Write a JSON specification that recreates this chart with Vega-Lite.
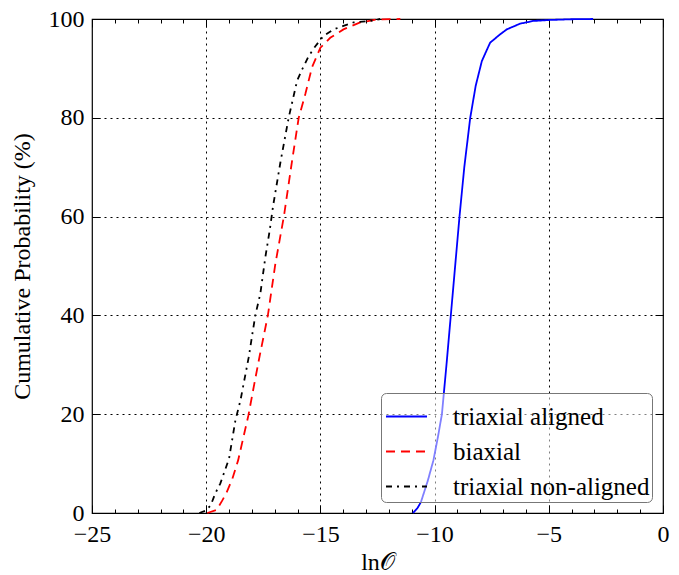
{
  "$schema": "https://vega.github.io/schema/vega-lite/v6.json",
  "autosize": "none",
  "width": 571,
  "height": 494,
  "padding": {"left": 92, "top": 19, "right": 16, "bottom": 62},
  "background": "white",
  "config": {
    "view": {"stroke": "black", "strokeWidth": 1.2},
    "font": "Liberation Serif",
    "axis": {"gridDash": [2, 4]},
    "legend": {
      "orient": "bottom-right",
      "offset": 11,
      "symbolType": "stroke",
      "symbolSize": 1681,
      "symbolStrokeWidth": 2,
      "symbolOffset": 2,
      "labelFont": "Liberation Serif",
      "labelFontSize": 25,
      "labelColor": "black",
      "labelOffset": 25,
      "labelLimit": 400,
      "rowPadding": -3,
      "padding": 2,
      "fillColor": "rgba(255,255,255,0.5)",
      "strokeColor": "#777777",
      "cornerRadius": 5
    }
  },
  "data": {
    "values": [
      {"s": "triaxial aligned", "x": -10.95, "p": 0},
      {"s": "triaxial aligned", "x": -10.75, "p": 1},
      {"s": "triaxial aligned", "x": -10.6, "p": 2.2},
      {"s": "triaxial aligned", "x": -10.3, "p": 6.5},
      {"s": "triaxial aligned", "x": -10.05, "p": 10.7},
      {"s": "triaxial aligned", "x": -9.85, "p": 15.5},
      {"s": "triaxial aligned", "x": -9.68, "p": 20},
      {"s": "triaxial aligned", "x": -9.48, "p": 30},
      {"s": "triaxial aligned", "x": -9.29, "p": 40},
      {"s": "triaxial aligned", "x": -9.1, "p": 50},
      {"s": "triaxial aligned", "x": -8.91, "p": 60},
      {"s": "triaxial aligned", "x": -8.7, "p": 70},
      {"s": "triaxial aligned", "x": -8.44, "p": 80},
      {"s": "triaxial aligned", "x": -8.2, "p": 86.5},
      {"s": "triaxial aligned", "x": -7.93, "p": 91.5},
      {"s": "triaxial aligned", "x": -7.57, "p": 95.2},
      {"s": "triaxial aligned", "x": -7.13, "p": 96.9},
      {"s": "triaxial aligned", "x": -6.84, "p": 97.9},
      {"s": "triaxial aligned", "x": -6.26, "p": 99.05},
      {"s": "triaxial aligned", "x": -5.69, "p": 99.6},
      {"s": "triaxial aligned", "x": -4.99, "p": 99.8},
      {"s": "triaxial aligned", "x": -4.0, "p": 99.95},
      {"s": "triaxial aligned", "x": -3.06, "p": 100},
      {"s": "biaxial", "x": -19.95, "p": 0},
      {"s": "biaxial", "x": -19.55, "p": 0.6},
      {"s": "biaxial", "x": -19.3, "p": 2.5},
      {"s": "biaxial", "x": -19.12, "p": 4},
      {"s": "biaxial", "x": -18.85, "p": 7},
      {"s": "biaxial", "x": -18.6, "p": 10.7},
      {"s": "biaxial", "x": -18.15, "p": 19.8},
      {"s": "biaxial", "x": -17.9, "p": 26},
      {"s": "biaxial", "x": -17.65, "p": 32},
      {"s": "biaxial", "x": -17.3, "p": 40},
      {"s": "biaxial", "x": -16.97, "p": 50.5},
      {"s": "biaxial", "x": -16.6, "p": 60},
      {"s": "biaxial", "x": -16.25, "p": 71},
      {"s": "biaxial", "x": -15.95, "p": 80},
      {"s": "biaxial", "x": -15.66, "p": 84.8},
      {"s": "biaxial", "x": -15.37, "p": 90.2},
      {"s": "biaxial", "x": -15.0, "p": 94.2},
      {"s": "biaxial", "x": -14.57, "p": 96.2},
      {"s": "biaxial", "x": -13.99, "p": 97.9},
      {"s": "biaxial", "x": -13.26, "p": 99.3},
      {"s": "biaxial", "x": -12.53, "p": 99.9},
      {"s": "biaxial", "x": -11.5, "p": 100},
      {"s": "triaxial non-aligned", "x": -20.3, "p": 0},
      {"s": "triaxial non-aligned", "x": -20.0, "p": 0.5},
      {"s": "triaxial non-aligned", "x": -19.8, "p": 1.6},
      {"s": "triaxial non-aligned", "x": -19.6, "p": 4},
      {"s": "triaxial non-aligned", "x": -19.38, "p": 6},
      {"s": "triaxial non-aligned", "x": -19.0, "p": 11},
      {"s": "triaxial non-aligned", "x": -18.72, "p": 18.8},
      {"s": "triaxial non-aligned", "x": -18.5, "p": 22.8},
      {"s": "triaxial non-aligned", "x": -18.14, "p": 31.5},
      {"s": "triaxial non-aligned", "x": -17.85, "p": 40},
      {"s": "triaxial non-aligned", "x": -17.63, "p": 44.4},
      {"s": "triaxial non-aligned", "x": -17.41, "p": 51.8},
      {"s": "triaxial non-aligned", "x": -17.22, "p": 57.2},
      {"s": "triaxial non-aligned", "x": -17.07, "p": 62.2},
      {"s": "triaxial non-aligned", "x": -16.75, "p": 71},
      {"s": "triaxial non-aligned", "x": -16.39, "p": 80},
      {"s": "triaxial non-aligned", "x": -16.02, "p": 87.5},
      {"s": "triaxial non-aligned", "x": -15.8, "p": 89.8},
      {"s": "triaxial non-aligned", "x": -15.51, "p": 92.5},
      {"s": "triaxial non-aligned", "x": -15.22, "p": 94.5},
      {"s": "triaxial non-aligned", "x": -14.86, "p": 96.6},
      {"s": "triaxial non-aligned", "x": -14.42, "p": 97.9},
      {"s": "triaxial non-aligned", "x": -13.99, "p": 98.6},
      {"s": "triaxial non-aligned", "x": -13.55, "p": 99.3},
      {"s": "triaxial non-aligned", "x": -12.82, "p": 99.6},
      {"s": "triaxial non-aligned", "x": -12.38, "p": 100}
    ]
  },
  "resolve": {"axis": {"x": "independent", "y": "independent"}},
  "layer": [
    {
      "transform": [{"filter": "datum.s === 'triaxial aligned'"}],
      "mark": {"type": "line", "strokeWidth": 1.8, "interpolate": "linear"},
      "encoding": {
        "x": {
          "field": "x", "type": "quantitative",
          "scale": {"domain": [-25, 0], "nice": false, "zero": false},
          "axis": {
            "orient": "bottom",
            "title": "ln𝒪",
            "titleFont": "Liberation Serif",
            "titleFontSize": 24,
            "titleFontWeight": "normal",
            "titleColor": "black",
            "titlePadding": 0,
            "values": [-25,-24,-23,-22,-21,-20,-19,-18,-17,-16,-15,-14,-13,-12,-11,-10,-9,-8,-7,-6,-5,-4,-3,-2,-1,0],
            "labelExpr": "datum.value % 5 === 0 ? datum.label : ''",
            "labelOverlap": false,
            "labelFlush": false,
            "labelFont": "Liberation Serif",
            "labelFontSize": 24,
            "labelColor": "black",
            "labelPadding": 17,
            "domain": false,
            "tickColor": "black",
            "tickWidth": 1,
            "tickSize": {"condition": {"test": "datum.value % 5 === 0", "value": -8}, "value": -4},
            "grid": true,
            "gridColor": "black",
            "gridWidth": 1,
            "gridOpacity": {"condition": {"test": "datum.value % 5 === 0 && datum.value > -25 && datum.value < 0", "value": 1}, "value": 0}
          }
        },
        "y": {
          "field": "p", "type": "quantitative",
          "scale": {"domain": [0, 100], "nice": false},
          "axis": {
            "orient": "left",
            "title": "Cumulative Probability (%)",
            "titleFont": "Liberation Serif",
            "titleFontSize": 24,
            "titleFontWeight": "normal",
            "titleColor": "black",
            "titlePadding": 14,
            "values": [0, 20, 40, 60, 80, 100],
            "labelFont": "Liberation Serif",
            "labelFontSize": 24,
            "labelColor": "black",
            "labelPadding": 16,
            "labelFlush": false,
            "labelOverlap": false,
            "domain": false,
            "tickColor": "black",
            "tickSize": -8,
            "grid": true,
            "gridColor": "black",
            "gridWidth": 1,
            "gridOpacity": {"condition": {"test": "datum.value > 0 && datum.value < 100", "value": 1}, "value": 0}
          }
        },
        "color": {
          "field": "s", "type": "nominal",
          "scale": {"domain": ["triaxial aligned", "biaxial", "triaxial non-aligned"], "range": ["#0000ff", "#ff0000", "#000000"]},
          "legend": {
            "title": null,
            "labelExpr": "datum.label + '\u00a0\u00a0'"
          }
        },
        "strokeDash": {
          "field": "s", "type": "nominal",
          "scale": {"domain": ["triaxial aligned", "biaxial", "triaxial non-aligned"], "range": [[1, 0], [9, 6], [6, 5, 2, 5]]},
          "legend": null
        }
      }
    },
    {
      "transform": [{"filter": "datum.s !== 'triaxial aligned'"}],
      "mark": {"type": "line", "strokeWidth": 1.8, "interpolate": "linear"},
      "encoding": {
        "x": {
          "field": "x", "type": "quantitative",
          "axis": {
            "orient": "top",
            "title": null,
            "values": [-25,-24,-23,-22,-21,-20,-19,-18,-17,-16,-15,-14,-13,-12,-11,-10,-9,-8,-7,-6,-5,-4,-3,-2,-1,0],
            "labels": false,
            "domain": false,
            "grid": false,
            "tickColor": "black",
            "tickSize": {"condition": {"test": "datum.value % 5 === 0", "value": -8}, "value": -4}
          }
        },
        "y": {
          "field": "p", "type": "quantitative",
          "axis": {
            "orient": "right",
            "title": null,
            "values": [0, 20, 40, 60, 80, 100],
            "labels": false,
            "domain": false,
            "grid": false,
            "tickColor": "black",
            "tickSize": -8
          }
        },
        "color": {"field": "s", "type": "nominal", "legend": {"title": null, "labelExpr": "datum.label + '\u00a0\u00a0'"}},
        "strokeDash": {"field": "s", "type": "nominal", "legend": null}
      }
    }
  ]
}
